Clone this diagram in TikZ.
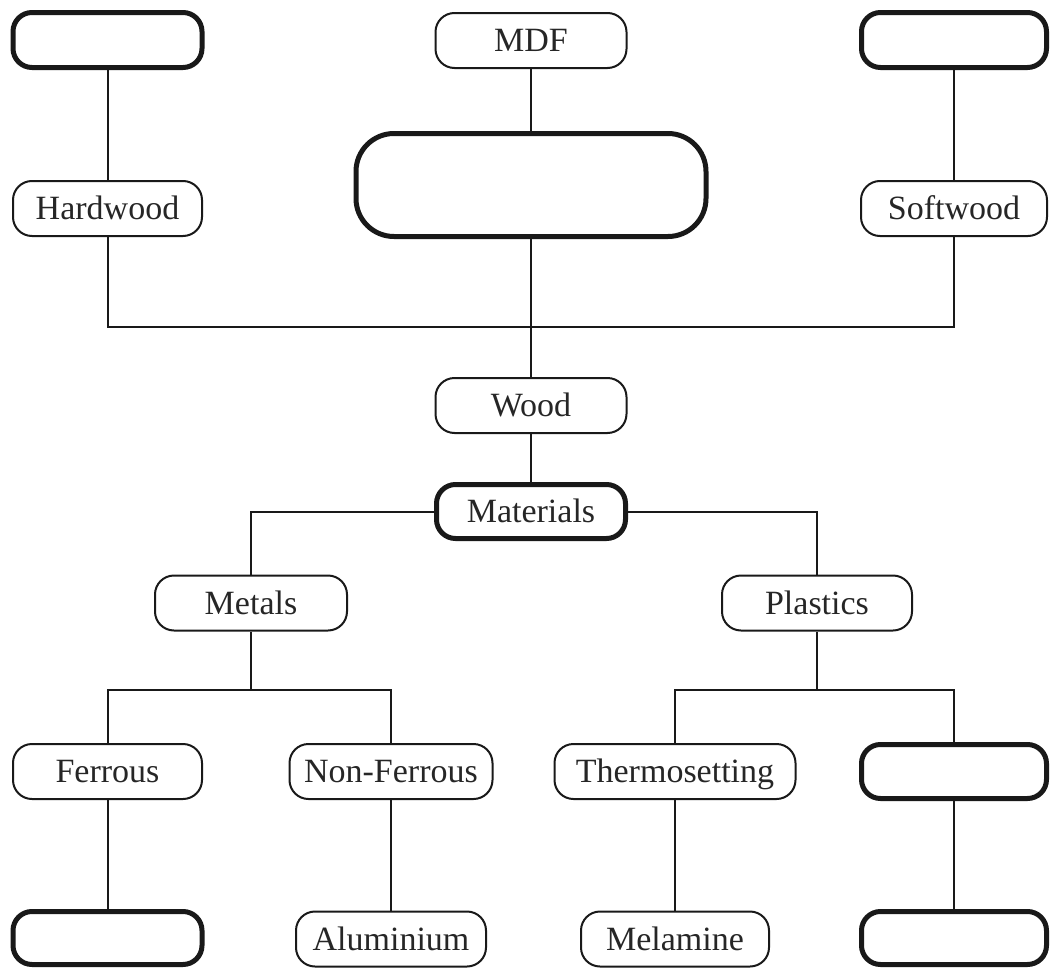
\documentclass[tikz,border=0pt]{standalone}
\usepackage{fontspec}
\setmainfont{Liberation Serif}
\begin{document}
\begin{tikzpicture}[x=1pt,y=-1pt,
  box/.style={draw=black!90, line width=2pt, rounded corners=19pt, inner sep=0pt,
    minimum height=55pt, text height=22.5pt, text depth=0pt,
    font=\fontsize{34}{40}\selectfont, text=black!85},
  thickbox/.style={box, line width=5pt},
  conn/.style={draw=black!90, line width=2pt}]
\useasboundingbox (0,0) rectangle (1050,969);
% top row
\node[thickbox, minimum width=189pt] (tl) at (107.5,40) {};
\node[box, minimum width=191pt] (mdf) at (531,40.5) {MDF};
\node[thickbox, minimum width=185pt] (tr) at (954,40) {};
% second row
\node[box, minimum width=189pt] (hard) at (107.5,208.5) {Hardwood};
\node[thickbox, minimum width=350pt, minimum height=103pt, rounded corners=38pt] (big) at (531,185) {};
\node[box, minimum width=186pt] (soft) at (954,208.5) {Softwood};
% middle
\node[box, minimum width=191pt] (wood) at (531,405.5) {Wood};
\node[thickbox, minimum width=189pt, minimum height=54pt] (mat) at (531,511.5) {Materials};
\node[box, minimum width=192pt] (metals) at (251,603) {Metals};
\node[box, minimum width=190pt] (plastics) at (817,603) {Plastics};
% third row
\node[box, minimum width=189pt] (ferrous) at (107.5,771.5) {Ferrous};
\node[box, minimum width=203pt] (nonf) at (391,771.5) {Non-Ferrous};
\node[box, minimum width=241pt] (thermo) at (675,771.5) {Thermosetting};
\node[thickbox, minimum width=185pt, minimum height=54pt] (pr) at (954,771.5) {};
% bottom row
\node[thickbox, minimum width=189pt, minimum height=53pt] (bl) at (107.5,938) {};
\node[box, minimum width=190pt] (alu) at (391,939) {Aluminium};
\node[box, minimum width=188pt] (mel) at (675,939) {Melamine};
\node[thickbox, minimum width=185pt, minimum height=53pt] (br) at (954,938) {};
% junctions
\coordinate (jl) at (107.5,327);
\coordinate (jr) at (954,327);
\coordinate (mj) at (251,690);
\coordinate (pj) at (817,690);
% connectors
\draw[conn] (tl.south) -- (hard.north);
\draw[conn] (mdf.south) -- (big.north);
\draw[conn] (tr.south) -- (soft.north);
\draw[conn] (hard.south) -- (jl) -- (jr) -- (soft.south);
\draw[conn] (big.south) -- (wood.north);
\draw[conn] (wood.south) -- (mat.north);
\draw[conn] (mat.west) -| (metals.north);
\draw[conn] (mat.east) -| (plastics.north);
\draw[conn] (metals.south) -- (mj);
\draw[conn] (ferrous.north) |- (mj) -| (nonf.north);
\draw[conn] (plastics.south) -- (pj);
\draw[conn] (thermo.north) |- (pj) -| (pr.north);
\draw[conn] (ferrous.south) -- (bl.north);
\draw[conn] (nonf.south) -- (alu.north);
\draw[conn] (thermo.south) -- (mel.north);
\draw[conn] (pr.south) -- (br.north);
\end{tikzpicture}
\end{document}
